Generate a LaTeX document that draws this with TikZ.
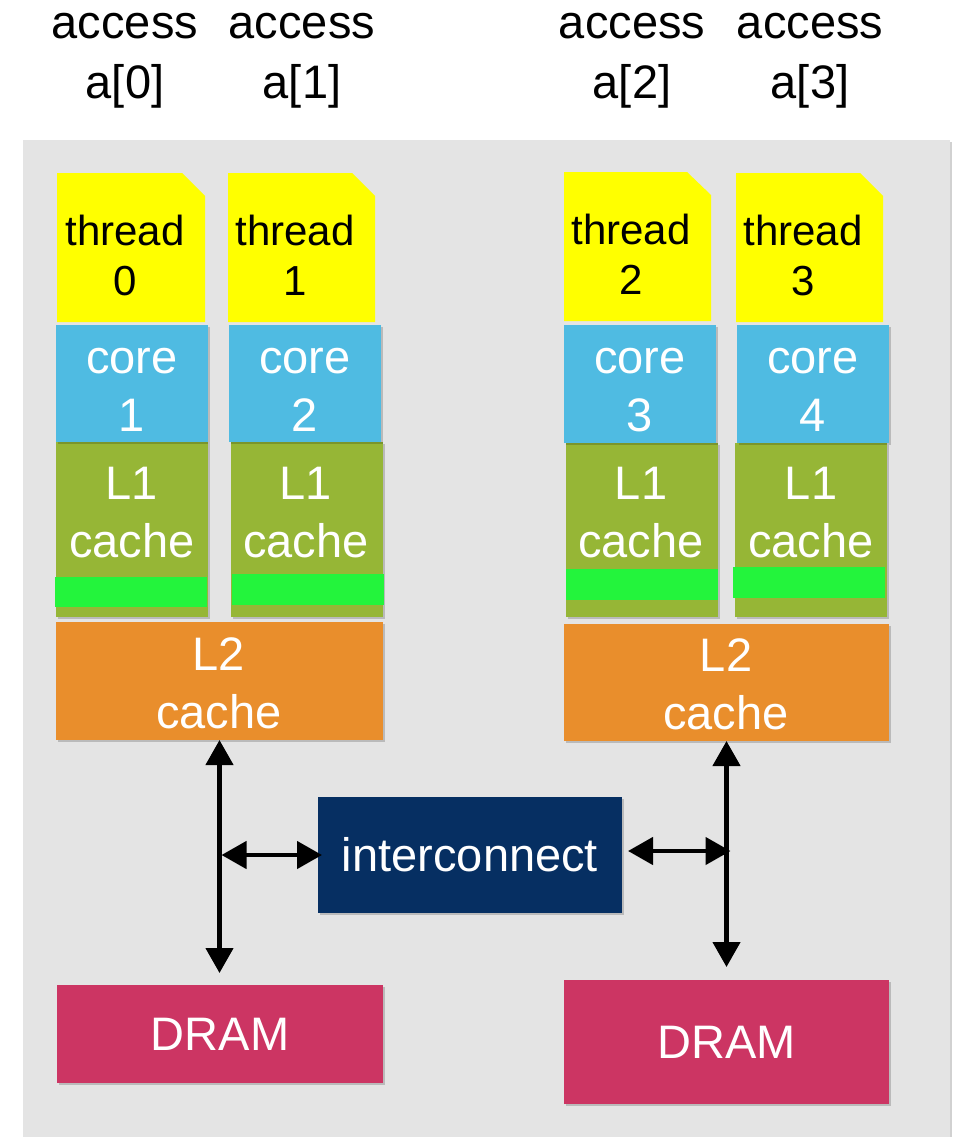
\documentclass[tikz,border=0pt]{standalone}
\usepackage{fontspec}
\setmainfont{Liberation Sans}
\usetikzlibrary{arrows.meta,shadows}
\definecolor{panel}{HTML}{E4E4E4}
\definecolor{thr}{HTML}{FFFF00}
\definecolor{corec}{HTML}{4FBBE2}
\definecolor{lonec}{HTML}{96B636}
\definecolor{stripe}{HTML}{23F43C}
\definecolor{ltwoc}{HTML}{E98E2C}
\definecolor{icc}{HTML}{062F62}
\definecolor{dramc}{HTML}{CC3563}
\begin{document}
\begin{tikzpicture}[x=1pt,y=-1pt,
  bx/.style={inner sep=0pt,outer sep=0pt,draw=none,
    drop shadow={shadow xshift=1.5pt,shadow yshift=-2pt,opacity=0.18,fill=black}},
  flat/.style={inner sep=0pt,outer sep=0pt,draw=none},
  wtxt/.style={text=white,align=center,inner sep=0pt,font=\fontsize{47}{58}\selectfont},
  btxt/.style={text=black,align=center,inner sep=0pt,font=\fontsize{47}{60}\selectfont},
  ttxt/.style={text=black,align=center,inner sep=0pt,font=\fontsize{42}{50}\selectfont},
  arr/.style={line width=4.5pt,{Triangle[width=27pt,length=25pt]}-{Triangle[width=27pt,length=25pt]}}]
\useasboundingbox (0,0) rectangle (956,1137);
% panel
\node[bx,fill=panel,minimum width=927,minimum height=1000,
  drop shadow={shadow xshift=0pt,shadow yshift=-1pt,opacity=0.15,fill=black}] (panel) at (486.5,640) {};
% access labels
\node[btxt] (acc0) at (125,61) {access\\a[0]};
\node[btxt] (acc1) at (302,61) {access\\a[1]};
\node[btxt] (acc2) at (632,61) {access\\a[2]};
\node[btxt] (acc3) at (810,61) {access\\a[3]};
% threads (cut corner)
\fill[thr] (57,173) -- (182,173) -- (205,196) -- (205,322) -- (57,322) -- cycle;
\fill[thr] (228,173) -- (352,173) -- (375,196) -- (375,322) -- (228,322) -- cycle;
\fill[thr] (564,172) -- (687,172) -- (711,195) -- (711,321) -- (564,321) -- cycle;
\fill[thr] (736,173) -- (860,173) -- (883,196) -- (883,322) -- (736,322) -- cycle;
\node[ttxt] (thr0) at (125,255) {thread\\0};
\node[ttxt] (thr1) at (295,255) {thread\\1};
\node[ttxt] (thr2) at (631,254) {thread\\2};
\node[ttxt] (thr3) at (803,255) {thread\\3};
% L1 caches
\node[bx,fill=lonec,minimum width=152,minimum height=175] (lone0) at (132,529.5) {};
\node[bx,fill=lonec,minimum width=152,minimum height=175] (lone1) at (307,529.5) {};
\node[bx,fill=lonec,minimum width=152,minimum height=174] (lone2) at (642,530) {};
\node[bx,fill=lonec,minimum width=152,minimum height=174] (lone3) at (811,530) {};
\node[flat,fill=stripe,minimum width=152,minimum height=30] (st0) at (131,592) {};
\node[flat,fill=stripe,minimum width=152,minimum height=31] (st1) at (308,589.5) {};
\node[flat,fill=stripe,minimum width=152,minimum height=31] (st2) at (642,584.5) {};
\node[flat,fill=stripe,minimum width=152,minimum height=31] (st3) at (809,582.5) {};
\node[wtxt] (lt0) at (132,513) {L1\\cache};
\node[wtxt] (lt1) at (306,513) {L1\\cache};
\node[wtxt] (lt2) at (641,513) {L1\\cache};
\node[wtxt] (lt3) at (811,513) {L1\\cache};
% cores
\node[bx,fill=corec,minimum width=152,minimum height=117] (core1) at (132,383.5) {};
\node[bx,fill=corec,minimum width=152,minimum height=117] (core2) at (305,383.5) {};
\node[bx,fill=corec,minimum width=152,minimum height=118] (core3) at (640,384) {};
\node[bx,fill=corec,minimum width=152,minimum height=118] (core4) at (813,384) {};
\node[wtxt] (ct1) at (132,390) {core\\1};
\node[wtxt] (ct2) at (305,390) {core\\2};
\node[wtxt] (ct3) at (640,390) {core\\3};
\node[wtxt] (ct4) at (813,390) {core\\4};
% L2 caches
\node[bx,fill=ltwoc,minimum width=327,minimum height=118] (l2L) at (219.5,681) {};
\node[bx,fill=ltwoc,minimum width=325,minimum height=117] (l2R) at (726.5,682.5) {};
\node[wtxt] (l2Lt) at (219,683) {L2\\cache};
\node[wtxt] (l2Rt) at (726,684) {L2\\cache};
% interconnect
\node[bx,fill=icc,minimum width=304,minimum height=116,wtxt] (ic) at (470,855) {interconnect};
% DRAM
\node[bx,fill=dramc,minimum width=326,minimum height=98,wtxt] (dramL) at (220,1034) {DRAM};
\node[bx,fill=dramc,minimum width=325,minimum height=124,wtxt] (dramR) at (726.5,1042) {DRAM};
% connectors
\draw[arr,shorten >=12pt] (l2L.south) -- (l2L.south |- dramL.north);
\draw[arr] ([xshift=2pt]l2L.south |- ic.west) -- ([xshift=4pt]ic.west);
\draw[arr,shorten >=13pt] (l2R.south) -- (l2R.south |- dramR.north);
\draw[arr] ([xshift=6pt,yshift=4pt]ic.east) -- ([xshift=4pt,yshift=4pt]l2R.south |- ic.east);
\end{tikzpicture}
\end{document}
